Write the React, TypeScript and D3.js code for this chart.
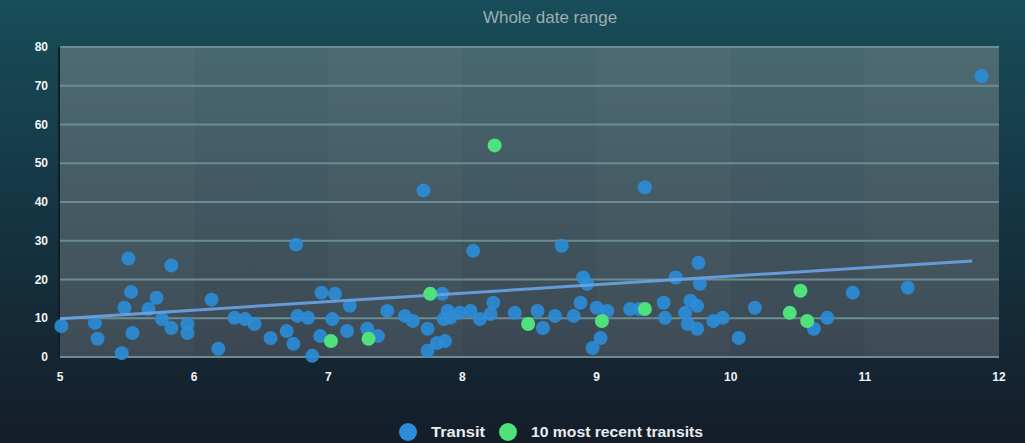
import React from 'react';
import * as d3 from 'd3';

const W = 1025;
const H = 443;

// transit points [hours, value]
const transitX = [
  5.01, 5.26, 5.28, 5.46, 5.51, 5.53, 5.48, 5.54, 5.72, 5.66, 5.83, 5.76, 5.83, 5.95, 5.95,
  6.13, 6.18, 6.3, 6.38, 6.45, 6.57, 6.69, 6.74, 6.77, 6.85, 6.88, 6.94, 6.76, 6.95, 7.05,
  7.16, 7.03, 7.14, 7.29, 7.37, 7.44, 7.57, 7.63, 7.74, 7.85, 7.86, 7.74, 7.81, 7.89, 7.71,
  8.08, 8.74, 7.91, 7.98, 8.06, 8.13, 8.21, 8.23, 7.87, 8.39, 8.56, 8.6, 8.69, 8.83, 8.9,
  8.93, 8.88, 9.0, 9.08, 9.03, 8.97, 9.25, 9.32, 9.36, 9.5, 9.51, 9.59, 9.76, 9.77, 9.7,
  9.66, 9.68, 9.75, 9.75, 9.87, 9.94, 10.06, 10.18, 10.62, 10.72, 10.91, 11.32, 11.87,
];
const transitY = [
  8.0, 8.8, 4.7, 1.0, 25.4, 16.8, 12.7, 6.2, 15.3, 12.4, 23.6, 9.8, 7.5, 8.5, 6.2,
  14.8, 2.1, 10.1, 9.8, 8.5, 4.9, 6.7, 3.4, 10.6, 10.1, 0.3, 5.4, 29.0, 16.6, 16.3,
  13.2, 9.8, 6.7, 7.3, 5.4, 11.9, 10.6, 9.3, 7.3, 16.3, 9.8, 1.6, 3.6, 11.9, 43.0,
  27.4, 28.7, 10.1, 11.4, 11.9, 9.8, 11.1, 14.0, 4.1, 11.4, 11.9, 7.5, 10.6, 10.6, 20.5,
  18.9, 14.0, 12.7, 11.9, 4.9, 2.3, 12.4, 12.4, 43.8, 14.0, 10.1, 20.5, 24.3, 18.9, 14.5,
  11.4, 8.5, 7.3, 13.2, 9.3, 10.1, 4.9, 12.7, 7.3, 10.1, 16.6, 17.9, 72.5,
];

// 10 most recent transits
const recentX = [7.02, 7.3, 7.76, 8.24, 8.49, 9.04, 9.36, 10.44, 10.52, 10.57];
const recentY = [4.1, 4.7, 16.3, 54.6, 8.5, 9.3, 12.4, 11.4, 17.1, 9.3];

// trend line end points
const trendX = [5, 11.8];
const trendY = [9.9, 24.8];

const xTicks = [5, 6, 7, 8, 9, 10, 11, 12];
const yTicks = [0, 10, 20, 30, 40, 50, 60, 70, 80];

const subtitle = 'Whole date range';
const legendLabels = ['Transit', '10 most recent transits'];

const BLUE = '#2b8dd8';
const GREEN = '#4fe27c';

const App: React.FC = () => {
  const margin = { top: 47, right: 26, bottom: 86, left: 60 };
  const x = d3.scaleLinear().domain([5, 12]).range([margin.left, W - margin.right]);
  const y = d3.scaleLinear().domain([0, 80]).range([H - margin.bottom, margin.top]);

  const line = d3.line<number>()
    .x((_, i) => x(trendX[i]))
    .y(d => y(d));

  const font = "'Liberation Sans', Arial, sans-serif";
  const bands = d3.range(5, 12);

  return (
    <svg width={W} height={H} style={{ position: 'fixed', left: 0, top: 0 }}>
      <defs>
        <linearGradient id="bg" x1="0" y1="0" x2="0" y2="1">
          <stop offset="0" stopColor="#174e59" />
          <stop offset="0.45" stopColor="#163644" />
          <stop offset="1" stopColor="#141d29" />
        </linearGradient>
        <linearGradient id="plotBg" x1="0" y1="0" x2="0" y2="1">
          <stop offset="0" stopColor="#4b6a72" />
          <stop offset="1" stopColor="#3c4954" />
        </linearGradient>
      </defs>
      <rect width={W} height={H} fill="url(#bg)" />

      <text x={550} y={23} textAnchor="middle" fill="#9eacb1" fontFamily={font} fontSize={17}>
        {subtitle}
      </text>

      {/* plot area */}
      <rect x={x(5)} y={y(80)} width={x(12) - x(5)} height={y(0) - y(80)} fill="url(#plotBg)" />
      {bands.map((b, i) => (
        <rect
          key={b}
          x={x(b)}
          y={y(80)}
          width={x(b + 1) - x(b)}
          height={y(0) - y(80)}
          fill={i % 2 === 0 ? 'rgba(255,255,255,0.012)' : 'rgba(0,0,0,0.015)'}
        />
      ))}
      {yTicks.map(t => (
        <line key={t} x1={x(5)} x2={x(12)} y1={y(t)} y2={y(t)} stroke="#6b8c92" strokeWidth={2} />
      ))}
      <line x1={x(5) - 1} x2={x(5) - 1} y1={y(80)} y2={y(0) + 1} stroke="#10202a" strokeWidth={2} />

      {yTicks.map(t => (
        <text key={t} x={48} y={y(t) + 4} textAnchor="end" fill="#f2f4f5" fontFamily={font} fontWeight="bold" fontSize={12}>
          {t}
        </text>
      ))}
      {xTicks.map(t => (
        <text key={t} x={x(t)} y={y(0) + 24} textAnchor="middle" fill="#f2f4f5" fontFamily={font} fontWeight="bold" fontSize={12}>
          {t}
        </text>
      ))}

      {transitX.map((v, i) => (
        <circle key={'t' + i} cx={x(v)} cy={y(transitY[i])} r={7} fill={BLUE} fillOpacity={0.9} />
      ))}

      <path d={line(trendY) || ''} fill="none" stroke="#6aa3e6" strokeWidth={3} strokeOpacity={0.9} />

      {recentX.map((v, i) => (
        <circle key={'r' + i} cx={x(v)} cy={y(recentY[i])} r={7} fill={GREEN} />
      ))}

      {/* legend */}
      <g fontFamily={font} fontWeight="bold" fontSize={14} fill="#e8ecee">
        <circle cx={408} cy={432} r={9} fill={BLUE} />
        <text x={431} y={437} textLength={54} lengthAdjust="spacingAndGlyphs">{legendLabels[0]}</text>
        <circle cx={508} cy={432} r={9} fill={GREEN} />
        <text x={531} y={437} textLength={172} lengthAdjust="spacingAndGlyphs">{legendLabels[1]}</text>
      </g>
    </svg>
  );
};

export default App;
